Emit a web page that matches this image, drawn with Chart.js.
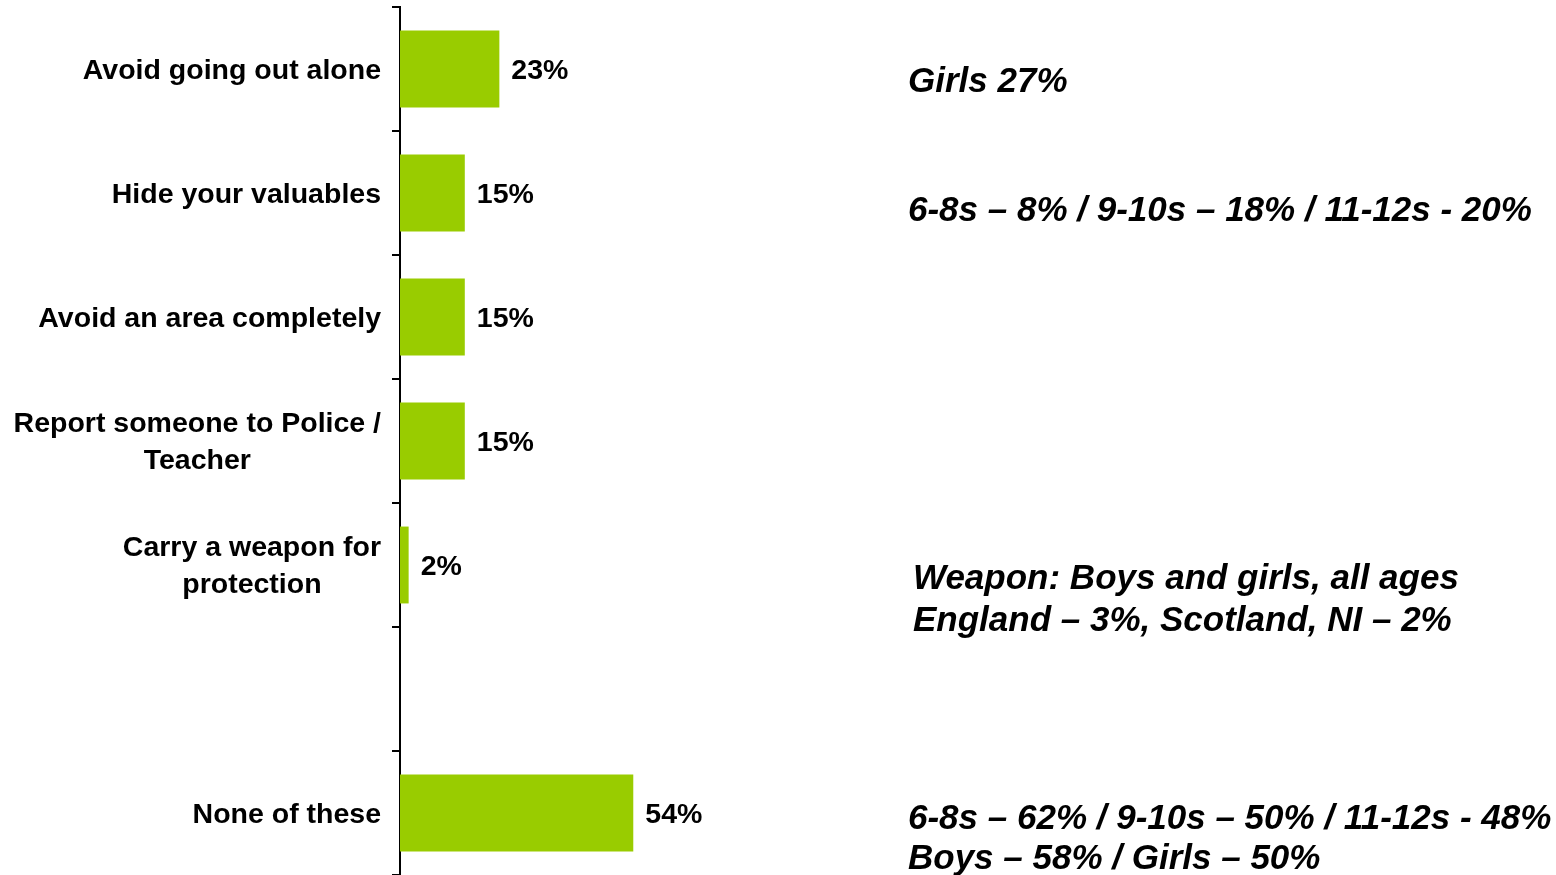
<!DOCTYPE html>
<html>
<head>
<meta charset="utf-8">
<script src="https://cdn.jsdelivr.net/npm/chart.js@4/dist/chart.umd.min.js"></script>
<style>
  html, body { margin: 0; padding: 0; background: #ffffff; }
  #wrap { width: 1556px; height: 875px; position: relative; }
</style>
</head>
<body>
<div id="wrap"><canvas id="c" width="1556" height="875"></canvas></div>
<script>
// ---- data ----
const categories = [
  ['Avoid going out alone'],
  ['Hide your valuables'],
  ['Avoid an area completely'],
  ['Report someone to Police /', 'Teacher'],
  ['Carry a weapon for', 'protection'],
  [''],
  ['None of these']
];
const values = [23, 15, 15, 15, 2, null, 54];
const valueLabels = ['23%', '15%', '15%', '15%', '2%', '', '54%'];
const noteTexts = [
  'Girls 27%',
  '6-8s – 8% / 9-10s – 18% / 11-12s - 20%',
  'Weapon: Boys and girls, all ages',
  'England – 3%, Scotland, NI – 2%',
  '6-8s – 62% / 9-10s – 50% / 11-12s - 48%',
  'Boys – 58% / Girls – 50%'
];
// category each note sits beside
const noteCategory = [0, 1, 4, 4, 6, 6];

// ---- layout / style (not data) ----
const BAR_COLOR = '#99cc00';
const LABEL_FONT = 'bold 28.5px "Liberation Sans", Arial, sans-serif';
const NOTE_FONT = 'bold italic 35px "Liberation Sans", Arial, sans-serif';
const noteOffset = [[908, 13], [908, 18], [913, 14], [913, 56], [908, 6], [908, 46]];

const labelPlugin = {
  id: 'customLabels',
  afterDraw(chart) {
    const ctx = chart.ctx;
    const y = chart.scales.y;
    const x = chart.scales.x;
    const area = chart.chartArea;
    ctx.save();
    ctx.font = LABEL_FONT;
    ctx.fillStyle = '#000';
    ctx.textBaseline = 'middle';
    ctx.textAlign = 'center';
    const lineH = 37;
    categories.forEach((lines, i) => {
      const cy = y.getPixelForValue(i) + 2;
      const w = Math.max(...lines.map(l => ctx.measureText(l).width));
      const right = area.left - 19;
      const cx = right - w / 2;
      const top = cy - (lines.length - 1) * lineH / 2;
      lines.forEach((l, k) => ctx.fillText(l, cx, top + k * lineH));
    });
    ctx.textAlign = 'left';
    const meta = chart.getDatasetMeta(0);
    meta.data.forEach((bar, i) => {
      if (values[i] == null) return;
      ctx.fillText(valueLabels[i], x.getPixelForValue(values[i]) + 12, bar.y + 2);
    });
    ctx.font = NOTE_FONT;
    noteTexts.forEach((t, i) => {
      const cy = y.getPixelForValue(noteCategory[i]) + noteOffset[i][1];
      ctx.fillText(t, noteOffset[i][0], cy);
    });
    ctx.restore();
  }
};

new Chart(document.getElementById('c'), {
  type: 'bar',
  data: {
    labels: categories.map(c => c.join(' ')),
    datasets: [{
      data: values,
      backgroundColor: BAR_COLOR,
      borderWidth: 0,
      barPercentage: 0.62,
      categoryPercentage: 1.0
    }]
  },
  options: {
    indexAxis: 'y',
    responsive: false,
    animation: false,
    devicePixelRatio: 1,
    layout: { padding: { top: 7, bottom: 0, left: 0, right: 724 } },
    plugins: { legend: { display: false }, tooltip: { enabled: false } },
    scales: {
      x: { display: false, min: 0, max: 100 },
      y: {
        position: 'left',
        offset: true,
        grid: {
          display: true,
          drawOnChartArea: false,
          drawTicks: true,
          tickLength: 8,
          color: '#000',
          lineWidth: 2,
          offset: true
        },
        border: { display: true, color: '#000', width: 2 },
        ticks: { display: false },
        afterFit(scale) { scale.width = 400; }
      }
    }
  },
  plugins: [labelPlugin]
});
</script>
</body>
</html>
